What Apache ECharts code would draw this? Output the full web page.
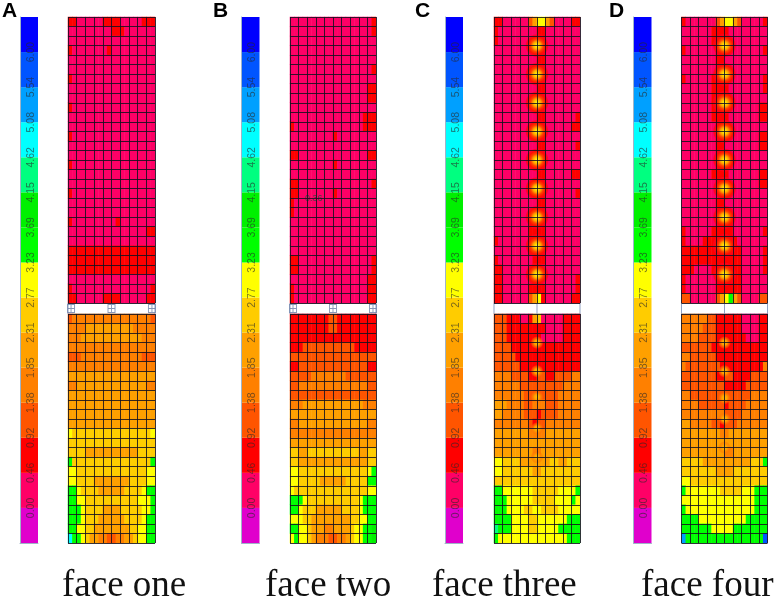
<!DOCTYPE html>
<html>
<head>
<meta charset="utf-8">
<style>html,body{margin:0;padding:0;background:#fff}#c{width:775px;height:599px;filter:blur(0.5px)}</style>
<script src="https://cdn.jsdelivr.net/npm/echarts@6/dist/echarts.min.js"></script>
</head>
<body>
<div id="c"></div>
<script>
// Colour-scale bands, bottom to top, and the tick labels at the band boundaries
const bandColors = ['#E000CC','#FF0066','#FF0000','#FF5500','#FF8000','#FFA000','#FFCC00','#FFFF00','#00FF00','#00F000','#00FF80','#00FFFF','#00A0FF','#0055FF','#0000FF'];
const bandSizes = [1,1,1,1,1,1,1,1,1,1,1,1,1,1,1];
const tickLabels = ['','0.00','0.46','0.92','1.38','1.85','2.31','2.77','3.23','3.69','4.15','4.62','5.08','5.54','6.00',''];
const faceNames = ['face one','face two','face three','face four'];
const panelLetters = ['A','B','C','D'];
const P = '11111111111111111111';
// Cell values: each character is a band number (hex-style, a=11 ... ), 20 half cells per row
const faceOneUpper = ['22111111222211111222','11111111112221111111',P,'21111111121111111111',P,P,'21111111111111111111',P,P,'21111111111111111111',P,P,'21111111111111111111',P,P,'21111111111111111111',P,P,'21111111111111111111',P,P,'21111111111211111111','11111111111111111122',P,'22222222222222222222','22222222222222222222','22222222222222222222',P,'21111111111111111112','22111111222211111122'];
const faceOneLower = ['34444444444444444443','44445555555555544444','44455555555555555444','44444444444444444444','33344444444444444333','44444444444444444444','55555555555555555555','44555555555555555544','55555555555555555555','55555555555555555555','55555555555555555555','55555555555555555555','76666666666666666667','66666666666666666666','66665555555555556666','86666666666666666668','77666666666666666677','77666655555555666677','88766665555556666788','88776666666666667778','88876666555566666778','88876665555556666788','88776655555555667788','b8876554433445567788'];
const faceTwoUpper = ['11111111111111111112','11111111111111111112',P,P,P,'11111111111111111112',P,'11111111111111111122','11111111111111111122',P,'11111111111111111222','21111111111111111222','11111111112111111111','11111111111111111111','22111111111111111122','11111111112111111111',P,'22111111111111111112','22111111112111111111','21111111111111111111','21111111111111111111',P,P,P,P,'22111111111111111112','22111111111111111112','11111111111111111122','21111111111111111122','21111111111111111122'];
const faceTwoLower = ['22222222233222222222','22222222233222222222','22222222222222222222','22233333333333322222','33333333333333333333','22333333333333333322','33333444444443333333','33444444444444444433','33333333333333333333','44455555555555555444','55555555555555555555','44555555555555555544','44444444444444444444','55555555555555555555','66556666666666665566','66555555555555555566','77666666666666666678','77666665555556666688','76666666666666666677','88876666666666667888','88766655555566667888','77766555555555667788','88776555445555677889','78776544433445677889'];
const faceThreeUpper = ['22111111357753111122','21111111112211111111','21111111112211111111','11111111112211111111','11111111112211111111','11111111112211111111','11111111112211111111','11111111112211111111','11111111112211111111','11111111112211111111','11111111112211111112','11111111112211111122','11111111112211111111','11111111112211111112','11111111112211111111','11111111112211111111','11111111112211111122','11111111112211111111','11111111112211111112','11111111112211111111','11111111122211111111','11111111222211111111','11111111222211111111','21111111222211111111','11111111222211111111','21111111122211111111','22111111122111111111','22111111122111111112','22111111222211111112','22111111357211111122'];
const faceThreeLower = ['33322211256111112222','33322222222211112222','33322222222111112222','33332222222222222222','33333222222222222222','33333322222222222222','44443333223322333344','44444433333333334444','44444443333333344444','55544443344433344444','55444443332333344444','44444444323344444444','55555555444455555555','55555555555555555555','55555555544555555555','77666655555556655666','77666666655666666666','66666666666666666666','88777777766666677778','88877777766666777787','88877776677666677777','88887777667777777888','a8887777667777788888','87777777777777777888'];
const faceFourUpper = ['21111111357753111112','11111112222111111111','11111112222111111111','21111111221111111112','11111111221111111111','11111111221111111111','21111112222111111112','11111112222111111112','11111112222111111111','11111112222111111122','11111112222111111122','11111111221111111111','11111111221111111122','11111111221111111122','11111111221111111111','11111111221111111111','11111112222111111122','11111111221111111122','11111111111111111111','11111111221111111111','11111111221111111111','11111111222211111111','21111112222211111112','21111222222221111111','22222222222222111112','22222222222222111112','22211112222222111112','21111111222222111111','21111111222222111111','33111111357853111133'];
const faceFourLower = ['44444433222222111122','44444333222222111122','44443333222222211122','33333332222222222222','44333333222222222222','43333333322222222224','33333333223322223333','33333333332222233333','44333333333333334444','44443333332333344444','44444444443333444444','55444443323334444444','55555555544555555555','55555555555555555555','55555555554455555555','66666555555555556668','66666666555566666666','77666666666666666666','87777777766666777888','77777777777777777888','87777777777777777888','88887777777777788888','88888887777788888888','c888888888888888888d'];
// Hot spots at grid nodes: [column, row]
const strongSpots = [[5,3],[5,6],[5,9],[5,12],[5,15],[5,18],[5,21],[5,24],[5,27]];
const weakSpotsThree = [[5,3],[5,6],[5,8.7],[5,12],[5,15]];
const weakSpotsFour = [[5,3],[5,6],[5,8.8],[5,11],[5,14]];
const gapMarks = [[0.35,0.5],[5,0.5],[9.65,0.5]];
const gapLine = [[5,0],[5,1]];

const faces = [
  {upper:faceOneUpper, lower:faceOneLower, upSpots:[], lowSpots:[], marks:gapMarks, line:[]},
  {upper:faceTwoUpper, lower:faceTwoLower, upSpots:[], lowSpots:[], marks:gapMarks, line:[]},
  {upper:faceThreeUpper, lower:faceThreeLower, upSpots:strongSpots, lowSpots:weakSpotsThree, marks:[], line:gapLine},
  {upper:faceFourUpper, lower:faceFourLower, upSpots:strongSpots, lowSpots:weakSpotsFour, marks:[], line:gapLine}
];
const panelLeft = [68,290,494,681.5], panelW = [87,86,86,86];
const barLeft = [20,241.5,445,633.5];
const titleLeft = [57,260,427,636];
const letterLeft = [-3,208,410,604];

const grids=[], xAxes=[], yAxes=[], series=[], heatIdx=[], titles=[];
function addGrid(x,y,w,h,xa,ya){
  grids.push({left:x,top:y,width:w,height:h,containLabel:false});
  const i=grids.length-1;
  xAxes.push(Object.assign({gridIndex:i},xa));
  yAxes.push(Object.assign({gridIndex:i},ya));
  return i;
}
const hotGrad={type:'radial',x:.5,y:.5,r:.5,colorStops:[
  {offset:0,color:'#f2f040'},{offset:.16,color:'#ffdc00'},{offset:.34,color:'#ffa000'},
  {offset:.52,color:'#ff4000'},{offset:.72,color:'#ff1000'},{offset:.9,color:'rgba(255,0,30,.75)'},{offset:1,color:'rgba(255,0,80,0)'}]};
const warmGrad={type:'radial',x:.5,y:.5,r:.5,colorStops:[
  {offset:0,color:'#ffc000'},{offset:.4,color:'#ffa000'},{offset:.8,color:'rgba(255,120,0,.5)'},{offset:1,color:'rgba(255,100,0,0)'}]};
function section(rows,x,y,w,h,spots,grad,size){
  const g=addGrid(x,y,w,h,
    {type:'category',show:false,data:rows[0].split('').map((_,i)=>i)},
    {type:'category',show:false,inverse:true,data:rows.map((_,i)=>i)});
  const cells=[];
  rows.forEach((r,ri)=>r.split('').forEach((ch,ci)=>cells.push([ci,ri,parseInt(ch,16)])));
  heatIdx.push(series.length);
  series.push({type:'heatmap',xAxisIndex:g,yAxisIndex:g,data:cells,silent:true,z:2,progressive:0,animation:false});
  const line={show:true,lineStyle:{color:'#14101e',width:1,opacity:.85}};
  const o=addGrid(x,y,w,h,
    {type:'value',min:0,max:10,interval:1,z:10,axisLabel:{show:false},axisTick:{show:false},axisLine:{show:false},splitLine:line},
    {type:'value',min:0,max:rows.length,interval:1,inverse:true,z:10,axisLabel:{show:false},axisTick:{show:false},axisLine:{show:false},splitLine:line});
  if(spots.length) series.push({type:'scatter',xAxisIndex:o,yAxisIndex:o,data:spots,symbolSize:size,silent:true,z:5,clip:false,itemStyle:{color:grad,opacity:1}});
}
faces.forEach((f,k)=>{
  // colour bar
  const g=addGrid(barLeft[k],17,18,526,
    {type:'category',data:['b'],axisLabel:{show:false},axisTick:{show:false},axisLine:{show:true,lineStyle:{color:'#9fb4c8'}}},
    {type:'value',min:0,max:15,interval:1,splitLine:{show:false},axisTick:{show:false},
     axisLine:{show:true,lineStyle:{color:'#9fb4c8'}},z:6,
     axisLabel:{show:true,inside:true,rotate:90,margin:11,fontSize:10.5,fontFamily:'Liberation Sans',color:'rgba(40,40,40,.62)',
       verticalAlign:'middle',align:'center',formatter:v=>tickLabels[v]||'',showMinLabel:false,showMaxLabel:false}});
  bandSizes.forEach((s,i)=>series.push({type:'bar',stack:'scale'+k,xAxisIndex:g,yAxisIndex:g,data:[s],barWidth:'100%',silent:true,itemStyle:{color:bandColors[i]},animation:false}));
  section(f.upper,panelLeft[k],17,panelW[k],286,f.upSpots,hotGrad,24);
  section(f.lower,panelLeft[k],314,panelW[k],229,f.lowSpots,warmGrad,13);
  // white gap between the two parts
  const gg=grids.length;
  grids.push({left:panelLeft[k],top:303,width:panelW[k],height:11,show:true,borderColor:'#8fa2c4',borderWidth:1,backgroundColor:'#fff'});
  xAxes.push({gridIndex:gg,type:'value',min:0,max:10,show:false});
  yAxes.push({gridIndex:gg,type:'value',min:0,max:1,show:false});
  if(f.marks.length) series.push({type:'scatter',xAxisIndex:gg,yAxisIndex:gg,data:f.marks,symbol:'path://M0 0H8V8H0ZM4 0V8M0 4H8',symbolSize:[7,8],silent:true,clip:false,z:6,itemStyle:{color:'rgba(0,0,0,0)',borderColor:'#6d7fa8',borderWidth:1}});
  if(f.line.length) series.push({type:'line',xAxisIndex:gg,yAxisIndex:gg,data:f.line,symbol:'none',silent:true,z:6,lineStyle:{color:'#8fa2c4',width:1},animation:false});
  titles.push({text:faceNames[k],left:titleLeft[k],top:563,textStyle:{fontFamily:'Liberation Serif',fontSize:37,fontWeight:'normal',color:'#111'}});
  titles.push({text:panelLetters[k],left:letterLeft[k],top:-4,textStyle:{fontFamily:'Liberation Sans',fontSize:21,fontWeight:'bold',color:'#000'}});
});
titles.push({text:'0.36',left:300,top:189,textStyle:{fontFamily:'Liberation Sans',fontSize:9,fontWeight:'normal',color:'#444'}});

const chart=echarts.init(document.getElementById('c'),null,{renderer:'canvas'});
chart.setOption({
  animation:false,backgroundColor:'#fff',title:titles,grid:grids,xAxis:xAxes,yAxis:yAxes,series:series,
  visualMap:{type:'piecewise',show:false,seriesIndex:heatIdx,dimension:2,
    pieces:bandColors.map((c,i)=>({value:i,color:c}))}
});
</script>
</body>
</html>
